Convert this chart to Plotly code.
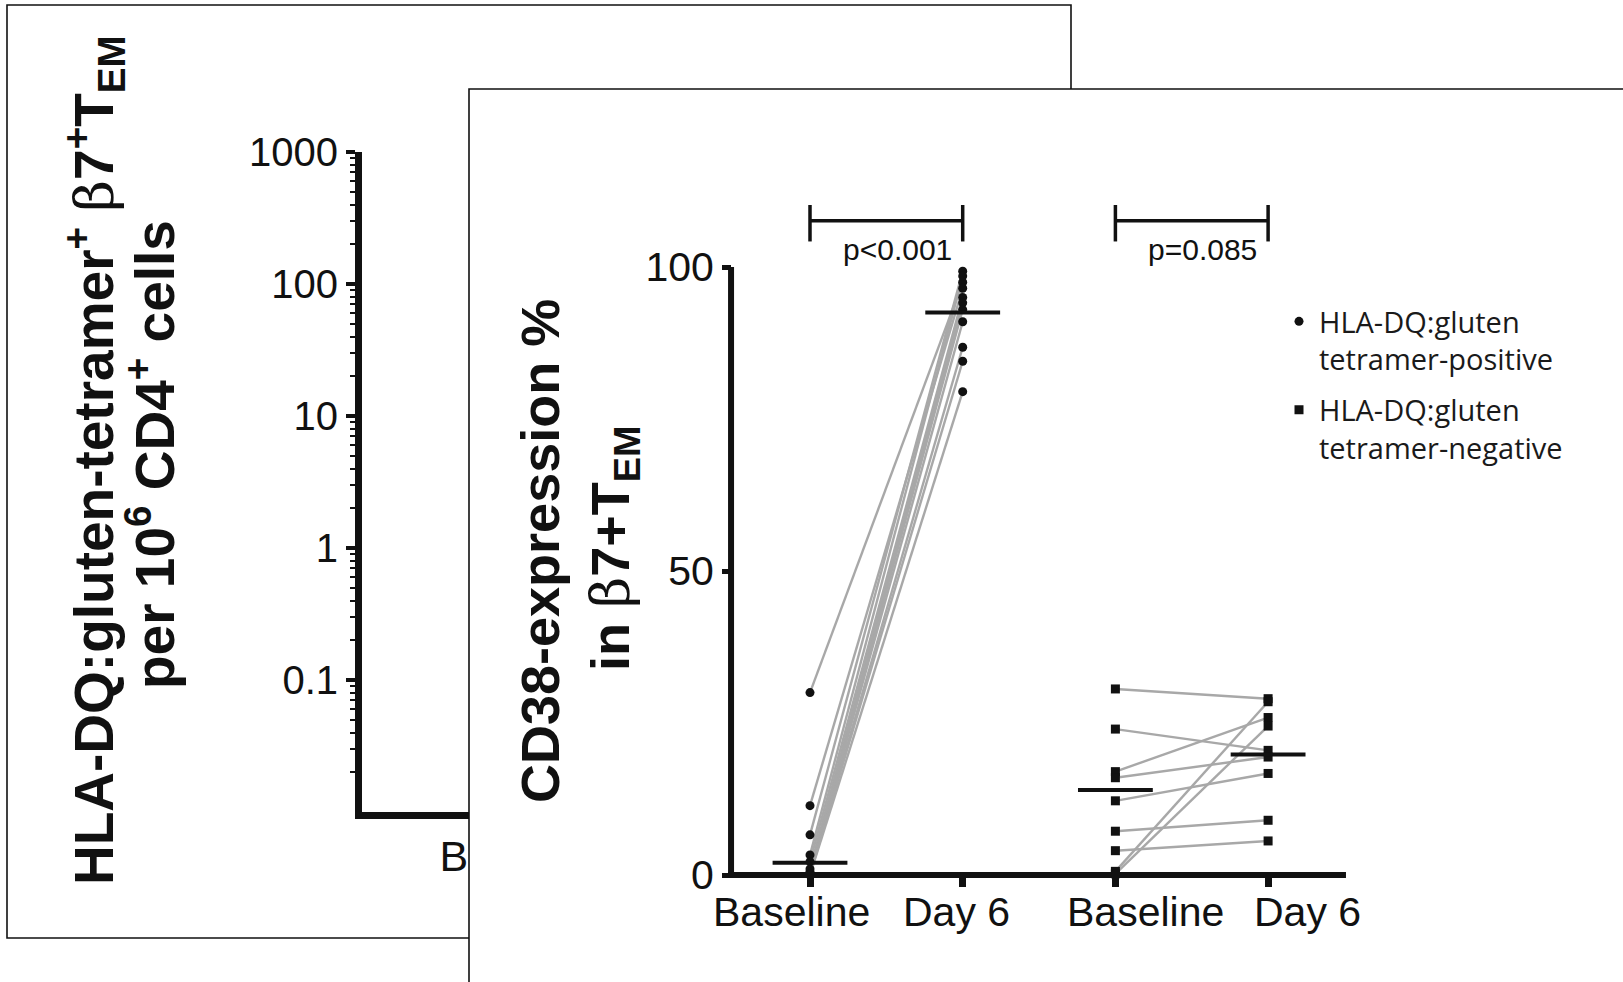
import plotly.graph_objects as go

W, H = 1623, 982

# ---------------- data ----------------
timepoints = ["Baseline", "Day 6"]
group_names = ["HLA-DQ:gluten<br>tetramer-positive", "HLA-DQ:gluten<br>tetramer-negative"]

pos_baseline = [30.0, 11.4, 6.6, 3.3, 2.2, 1.0, 0.5, 0.3, 0.2, 0.1, 0.0]
pos_day6 = [97.5, 96.5, 99.3, 98.5, 95.0, 94.1, 93.0, 91.0, 86.8, 84.5, 79.5]

neg_baseline = [30.6, 24.0, 17.0, 16.0, 12.2, 7.2, 4.0, 0.6, 0.2]
neg_day6 = [29.0, 20.5, 25.9, 19.4, 16.7, 9.0, 5.6, 28.5, 24.5]

pos_medians = [2.0, 92.5]
neg_medians = [14.0, 19.8]
p_labels = ["p<0.001", "p=0.085"]

front_yticks = [0, 50, 100]
back_yticks = [0.1, 1, 10, 100, 1000]
back_ytick_labels = ["0.1", "1", "10", "100", "1000"]
back_categories = ["Baseline"]

# ---------------- helpers (layout only) ----------------
def px(x):
    return x / W


def py(y):
    return 1 - y / H


FONT = "Liberation Sans, Arial, sans-serif"
BLACK = "#111111"
GRAY = "#a8a8a8"

# front panel geometry (pixels)
F_LEFT, F_TOP = 469, 89
CAT0_PX, CAT_STEP = 810, 152.7
Y0_PX, Y_UNIT = 875, 6.08
x2_range = [-(CAT0_PX - F_LEFT) / CAT_STEP, -(CAT0_PX - F_LEFT) / CAT_STEP + (W - F_LEFT) / CAT_STEP]
y2_range = [-(H - Y0_PX) / Y_UNIT, (Y0_PX - F_TOP) / Y_UNIT]
X_AXIS_LEFT, X_AXIS_RIGHT = -0.517, 3.51

fig = go.Figure()

# back panel placeholder trace (data hidden behind front panel)
fig.add_trace(go.Scatter(x=[0], y=[None], xaxis="x", yaxis="y", mode="markers",
                         showlegend=False, hoverinfo="skip"))

groups = [
    (pos_baseline, pos_day6, pos_medians, "circle", 9, group_names[0]),
    (neg_baseline, neg_day6, neg_medians, "square", 9, group_names[1]),
]

shapes = []
annotations = []

for gi, (base, d6, meds, sym, msize, name) in enumerate(groups):
    x0 = gi * len(timepoints)
    x1 = x0 + 1
    lx, ly = [], []
    for b, d in zip(base, d6):
        lx += [x0, x1, None]
        ly += [b, d, None]
    fig.add_trace(go.Scatter(x=lx, y=ly, xaxis="x2", yaxis="y2", mode="lines",
                             line=dict(color=GRAY, width=2.4), showlegend=False,
                             hoverinfo="skip"))
    fig.add_trace(go.Scatter(x=[x0] * len(base) + [x1] * len(d6), y=base + d6,
                             xaxis="x2", yaxis="y2", mode="markers", name=name,
                             legendgroup=f"g{gi}",
                             marker=dict(symbol=sym, size=msize, color=BLACK),
                             cliponaxis=False))
    # medians
    for xi, m in zip([x0, x1], meds):
        shapes.append(dict(type="line", xref="x2", yref="y2", x0=xi - 0.245, x1=xi + 0.245,
                           y0=m, y1=m, line=dict(color=BLACK, width=4), layer="above"))
    # significance bracket
    shapes.append(dict(type="line", xref="x2", yref="y2", x0=x0, x1=x1, y0=107.6, y1=107.6,
                       line=dict(color=BLACK, width=3.5)))
    for xi in (x0, x1):
        shapes.append(dict(type="line", xref="x2", yref="y2", x0=xi, x1=xi, y0=104.2, y1=110.2,
                           line=dict(color=BLACK, width=3.5)))
    annotations.append(dict(x=x0 + 0.94, y=102.8, xref="x2", yref="y2", text=p_labels[gi],
                            showarrow=False, xanchor="right", yanchor="middle",
                            font=dict(family=FONT, size=30, color=BLACK)))

# category labels (slightly offset as in the original figure)
label_offsets = [-0.12, -0.04, 0.20, 0.26]
for i, off in enumerate(label_offsets):
    annotations.append(dict(x=i + off, y=py(912), xref="x2", yref="paper",
                            text=timepoints[i % 2], showarrow=False,
                            xanchor="center", yanchor="middle",
                            font=dict(family=FONT, size=41, color=BLACK)))

# front axis lines
shapes.append(dict(type="line", xref="x2", yref="y2", x0=X_AXIS_LEFT, x1=X_AXIS_LEFT, y0=0, y1=100,
                   line=dict(color=BLACK, width=6)))
shapes.append(dict(type="line", xref="x2", yref="y2", x0=X_AXIS_LEFT - 0.02, x1=X_AXIS_RIGHT, y0=0, y1=0,
                   line=dict(color=BLACK, width=6)))

# panel borders
shapes.append(dict(type="rect", xref="paper", yref="paper", x0=px(7), x1=px(1071), y0=py(938), y1=py(5),
                   line=dict(color=BLACK, width=1.6), layer="below"))
shapes.append(dict(type="path", xref="paper", yref="paper",
                   path=f"M {px(F_LEFT)} -0.01 L {px(F_LEFT)} {py(F_TOP)} L 1.01 {py(F_TOP)}",
                   line=dict(color=BLACK, width=1.6), layer="above"))

beta = "<span style='font-family:DejaVu Serif, serif;font-weight:normal'>β</span>"

# back panel y title (two lines)
annotations.append(dict(x=px(94), y=py(460), xref="paper", yref="paper", textangle=-90,
                        text=f"HLA-DQ:gluten-tetramer<sup>+</sup> {beta}7<sup>+</sup>T<sub>EM</sub>",
                        showarrow=False, xanchor="center", yanchor="middle",
                        font=dict(family=FONT, size=55, color=BLACK, weight="bold")))
annotations.append(dict(x=px(151), y=py(455), xref="paper", yref="paper", textangle=-90,
                        text="per 10<sup>6</sup> CD4<sup>+</sup> cells",
                        showarrow=False, xanchor="center", yanchor="middle",
                        font=dict(family=FONT, size=55, color=BLACK, weight="bold")))

# front panel y title (two lines)
annotations.append(dict(x=px(540), y=py(551), xref="paper", yref="paper", textangle=-90,
                        text="CD38-expression %",
                        showarrow=False, xanchor="center", yanchor="middle",
                        font=dict(family=FONT, size=54, color=BLACK, weight="bold")))
annotations.append(dict(x=px(613), y=py(549), xref="paper", yref="paper", textangle=-90,
                        text=f"in {beta}7+T<sub>EM</sub>",
                        showarrow=False, xanchor="center", yanchor="middle",
                        font=dict(family=FONT, size=54, color=BLACK, weight="bold")))

minor_vals = [k * 10 ** e for e in range(-2, 3) for k in range(2, 10)]

fig.update_layout(
    template="none",
    width=W, height=H, autosize=False,
    margin=dict(l=0, r=0, t=0, b=0, pad=0, autoexpand=False),
    paper_bgcolor="white", plot_bgcolor="white",
    font=dict(family=FONT, color=BLACK),
    # back panel
    xaxis=dict(domain=[px(362), px(682)], range=[-0.5, 0.5], anchor="y", automargin=False,
               showline=True, linewidth=7, linecolor=BLACK, showgrid=False, zeroline=False,
               tickvals=[0], ticktext=back_categories, ticks="", ticklen=0,
               tickfont=dict(family=FONT, size=43, color=BLACK)),
    yaxis=dict(domain=[py(812), py(152)], type="log", range=[-2, 3], anchor="x", automargin=False,
               showline=True, linewidth=7, linecolor=BLACK, showgrid=False, zeroline=False,
               tickvals=back_yticks, ticktext=back_ytick_labels,
               ticks="outside", ticklen=9, tickwidth=4, tickcolor=BLACK,
               tickfont=dict(family=FONT, size=40, color=BLACK),
               minor=dict(tickvals=minor_vals, ticks="outside", ticklen=5, tickwidth=2,
                          tickcolor=BLACK, showgrid=False)),
    # front panel
    xaxis2=dict(domain=[px(F_LEFT), 1], range=x2_range, anchor="free", position=py(Y0_PX),
                automargin=False,
                showline=False, showgrid=False, zeroline=False,
                tickvals=[0, 1, 2, 3], showticklabels=False,
                ticks="outside", ticklen=11, tickwidth=7, tickcolor=BLACK),
    yaxis2=dict(domain=[0, py(F_TOP)], range=y2_range, anchor="free", position=px(731),
                automargin=False,
                showline=False, showgrid=False, zeroline=False,
                tickvals=front_yticks, ticks="outside", ticklen=9, tickwidth=5, tickcolor=BLACK,
                tickfont=dict(family=FONT, size=41, color=BLACK)),
    showlegend=True,
    legend=dict(x=px(1279), y=py(296), xanchor="left", yanchor="top",
                bgcolor="rgba(0,0,0,0)", valign="top", itemsizing="trace",
                traceorder="grouped", tracegroupgap=10,
                font=dict(family="Open Sans, Noto Sans, sans-serif", size=29, color="#1a1a1a")),
    shapes=shapes,
    annotations=annotations,
)

fig.write_html("out.html")
